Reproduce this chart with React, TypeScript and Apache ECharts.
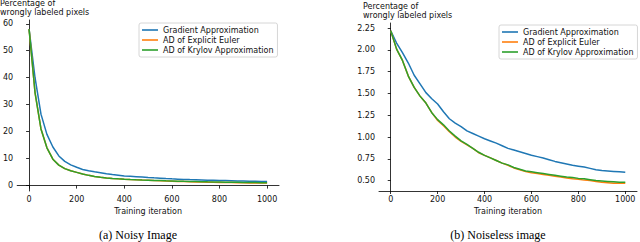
import React, { useEffect, useRef } from "react";
import * as echarts from "echarts";

const iterations = [0,25,50,75,100,125,150,175,200,225,250,275,300,325,350,375,400,425,450,475,500,525,550,575,600,625,650,675,700,725,750,775,800,825,850,875,900,925,950,975,1000];

const noisyGradient = [58,40,26.5,19,14.3,11,9.0,7.7,6.8,6.0,5.5,5.1,4.8,4.4,4.1,3.85,3.6,3.45,3.3,3.15,3.0,2.87,2.75,2.62,2.5,2.4,2.3,2.22,2.15,2.08,2.0,1.95,1.9,1.85,1.8,1.75,1.7,1.65,1.6,1.55,1.5];
const noisyEuler = [58,34.5,21,14,9.8,7.6,6.3,5.5,4.9,4.3,3.8,3.4,3.1,2.85,2.65,2.5,2.37,2.25,2.14,2.04,1.95,1.86,1.78,1.7,1.63,1.56,1.5,1.44,1.38,1.33,1.28,1.23,1.19,1.15,1.11,1.07,1.03,1.0,0.97,0.94,0.92];
const noisyKrylov = [58,34.5,21,14,9.8,7.6,6.3,5.5,4.9,4.3,3.8,3.4,3.1,2.85,2.65,2.5,2.38,2.27,2.17,2.08,2.0,1.92,1.85,1.78,1.72,1.66,1.6,1.55,1.5,1.45,1.4,1.36,1.32,1.28,1.25,1.22,1.19,1.16,1.13,1.1,1.08];

const cleanGradient = [2.22,2.08,1.97,1.85,1.71,1.61,1.51,1.44,1.38,1.29,1.21,1.16,1.12,1.07,1.04,1.01,0.98,0.955,0.93,0.90,0.87,0.85,0.83,0.81,0.79,0.775,0.76,0.74,0.72,0.705,0.69,0.675,0.665,0.655,0.64,0.625,0.615,0.61,0.605,0.60,0.595];
const cleanEuler = [2.22,2.01,1.88,1.70,1.57,1.47,1.39,1.28,1.19,1.13,1.06,1.00,0.95,0.91,0.87,0.82,0.79,0.76,0.73,0.70,0.675,0.645,0.625,0.605,0.59,0.58,0.57,0.56,0.55,0.54,0.53,0.52,0.515,0.505,0.50,0.49,0.48,0.475,0.47,0.47,0.47];
const cleanKrylov = [2.22,2.01,1.88,1.70,1.57,1.47,1.39,1.28,1.20,1.14,1.07,1.01,0.955,0.915,0.87,0.825,0.79,0.76,0.73,0.70,0.68,0.65,0.63,0.61,0.60,0.59,0.58,0.57,0.56,0.55,0.54,0.535,0.525,0.52,0.51,0.50,0.495,0.49,0.485,0.48,0.48];

const xTicks = [0,200,400,600,800,1000];
const noisyYTicks = [0,10,20,30,40,50,60];
const cleanYTicks = [0.5,0.75,1.0,1.25,1.5,1.75,2.0,2.25];

const seriesNames = ["Gradient Approximation","AD of Explicit Euler","AD of Krylov Approximation"];
const colors = ["#1f77b4","#ff7f0e","#2ca02c"];

const FONT = "DejaVu Sans";
const FS = 8;
const TXT = "#111";

export default function App() {
  const ref = useRef<HTMLDivElement>(null);
  useEffect(() => {
    if (!ref.current) return;
    const chart = echarts.init(ref.current, undefined, { renderer: "svg" });
    const pair = (xs: number[], ys: number[]) => xs.map((x, i) => [x, ys[i]]);
    const xAxisBase = (gi: number) => ({
      type: "value",
      gridIndex: gi,
      min: -50,
      max: 1050,
      name: "Training iteration",
      nameLocation: "middle",
      nameGap: 14,
      nameTextStyle: { fontFamily: FONT, fontSize: FS, color: TXT },
      axisLine: { lineStyle: { color: "#000", width: 0.8 } },
      axisTick: { show: true, length: 3, customValues: xTicks, lineStyle: { color: "#000", width: 0.8 } },
      axisLabel: { customValues: xTicks, fontFamily: FONT, fontSize: FS, color: TXT, margin: 4, formatter: (v: number) => String(v) },
      splitLine: { show: false },
    });
    const yAxisBase = (gi: number, min: number, max: number, ticks: number[], fmt: (v: number) => string) => ({
      type: "value",
      gridIndex: gi,
      min,
      max,
      axisLine: { show: true, lineStyle: { color: "#000", width: 0.8 } },
      axisTick: { show: true, length: 3, customValues: ticks, lineStyle: { color: "#000", width: 0.8 } },
      axisLabel: { customValues: ticks, fontFamily: FONT, fontSize: FS, color: TXT, margin: 4, formatter: fmt },
      splitLine: { show: false },
    });
    const mk = (name: string, color: string, xi: number, data: number[][]) => ({
      name,
      type: "line",
      xAxisIndex: xi,
      yAxisIndex: xi,
      data,
      showSymbol: false,
      symbol: "none",
      lineStyle: { color, width: 1.5 },
      itemStyle: { color },
    });
    const legendBase = {
      orient: "vertical",
      data: seriesNames.map((n) => ({ name: n, icon: "rect" })),
      itemWidth: 16,
      itemHeight: 1.6,
      itemGap: 2,
      padding: [3, 4, 3, 3],
      borderColor: "#ccc",
      borderWidth: 0.8,
      borderRadius: 2,
      backgroundColor: "#fff",
      textStyle: { fontFamily: FONT, fontSize: FS, color: TXT },
      selectedMode: false,
    };
    chart.setOption({
      animation: false,
      backgroundColor: "#fff",
      grid: [
        { left: 17, right: 361, top: 20, bottom: 51 },
        { left: 379, right: 3, top: 23, bottom: 51 },
      ],
      xAxis: [xAxisBase(0), xAxisBase(1)],
      yAxis: [
        yAxisBase(0, -2, 61.4, noisyYTicks, (v: number) => String(v)),
        yAxisBase(1, 0.38, 2.31, cleanYTicks, (v: number) => v.toFixed(2)),
      ],
      legend: [
        { ...legendBase, left: 139, top: 23 },
        { ...legendBase, left: 499, top: 25 },
      ],
      series: [
        mk(seriesNames[0], colors[0], 0, pair(iterations, noisyGradient)),
        mk(seriesNames[1], colors[1], 0, pair(iterations, noisyEuler)),
        mk(seriesNames[2], colors[2], 0, pair(iterations, noisyKrylov)),
        mk(seriesNames[0], colors[0], 1, pair(iterations, cleanGradient)),
        mk(seriesNames[1], colors[1], 1, pair(iterations, cleanEuler)),
        mk(seriesNames[2], colors[2], 1, pair(iterations, cleanKrylov)),
      ],
      graphic: [
        { type: "text", left: 0, top: -1, style: { text: "Percentage of", font: `${FS}px "${FONT}"`, fill: TXT } },
        { type: "text", left: 0, top: 8, style: { text: "wrongly labeled pixels", font: `${FS}px "${FONT}"`, fill: TXT } },
        { type: "text", left: 363, top: 2, style: { text: "Percentage of", font: `${FS}px "${FONT}"`, fill: TXT } },
        { type: "text", left: 363, top: 11, style: { text: "wrongly labeled pixels", font: `${FS}px "${FONT}"`, fill: TXT } },
        { type: "text", x: 138, y: 235, style: { text: "(a) Noisy Image", font: `12px "Liberation Serif"`, fill: "#000", align: "center", verticalAlign: "middle" } },
        { type: "text", x: 498, y: 235, style: { text: "(b) Noiseless image", font: `12px "Liberation Serif"`, fill: "#000", align: "center", verticalAlign: "middle" } },
      ],
    });
    return () => chart.dispose();
  }, []);
  return <div ref={ref} style={{ position: "fixed", left: 0, top: 0, width: 640, height: 242 }} />;
}
